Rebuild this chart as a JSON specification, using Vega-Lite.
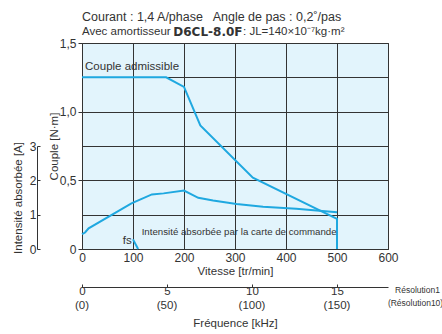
{
  "$schema": "https://vega.github.io/schema/vega-lite/v6.json",
  "width": 306,
  "height": 206,
  "autosize": {"type": "none"},
  "padding": {"left": 82, "top": 43, "right": 54, "bottom": 85},
  "background": "white",
  "config": {
    "view": {"fill": "#e2f4fc", "stroke": "#333333", "strokeWidth": 1},
    "font": "Liberation Sans, Arial, sans-serif",
    "axis": {
      "labelFont": "Liberation Sans, Arial, sans-serif",
      "titleFont": "Liberation Sans, Arial, sans-serif",
      "labelFontSize": 12,
      "titleFontSize": 11.5,
      "titleFontWeight": "normal",
      "labelColor": "#333333",
      "titleColor": "#333333",
      "domainColor": "#333333",
      "tickColor": "#333333",
      "gridColor": "#333333",
      "gridOpacity": 1,
      "gridWidth": 1
    },
    "text": {"font": "Liberation Sans, Arial, sans-serif", "color": "#333333"}
  },
  "datasets": {
    "curves": [
      {"series": "Couple admissible", "i": 1, "speed": 0, "torque": 1.25},
      {"series": "Couple admissible", "i": 2, "speed": 165, "torque": 1.25},
      {"series": "Couple admissible", "i": 3, "speed": 200, "torque": 1.18},
      {"series": "Couple admissible", "i": 4, "speed": 232, "torque": 0.9},
      {"series": "Couple admissible", "i": 5, "speed": 335, "torque": 0.52},
      {"series": "Couple admissible", "i": 6, "speed": 500, "torque": 0.22},
      {"series": "Couple admissible", "i": 7, "speed": 500, "torque": 0},
      {"series": "fs", "i": 1, "speed": 100, "torque": 0.07},
      {"series": "fs", "i": 2, "speed": 110, "torque": 0}
    ],
    "current": [
      {"i": 1, "speed": 0, "current": 0.43},
      {"i": 2, "speed": 6, "current": 0.48},
      {"i": 3, "speed": 13, "current": 0.6},
      {"i": 4, "speed": 97, "current": 1.33},
      {"i": 5, "speed": 137, "current": 1.59},
      {"i": 6, "speed": 160, "current": 1.62},
      {"i": 7, "speed": 200, "current": 1.7},
      {"i": 8, "speed": 228, "current": 1.49},
      {"i": 9, "speed": 257, "current": 1.41},
      {"i": 10, "speed": 303, "current": 1.31},
      {"i": 11, "speed": 355, "current": 1.23},
      {"i": 12, "speed": 420, "current": 1.17},
      {"i": 13, "speed": 500, "current": 1.07}
    ],
    "freq": [
      {"f": 0, "res10": "(0)"},
      {"f": 5, "res10": "(50)"},
      {"f": 10, "res10": "(100)"},
      {"f": 15, "res10": "(150)"}
    ]
  },
  "layer": [
    {
      "data": {"name": "curves"},
      "mark": {"type": "line", "color": "#1fa8e0", "strokeWidth": 2},
      "encoding": {
        "x": {
          "field": "speed", "type": "quantitative",
          "scale": {"domain": [0, 600], "nice": false},
          "axis": {"title": "Vitesse [tr/min]", "values": [0, 100, 200, 300, 400, 500, 600], "ticks": false, "domain": false, "labelPadding": 3, "titlePadding": 2, "grid": true, "labelFlush": false}
        },
        "y": {
          "field": "torque", "type": "quantitative",
          "scale": {"domain": [0, 1.5], "nice": false},
          "axis": {
            "title": "Couple [N·m]",
            "values": [0, 0.25, 0.5, 0.75, 1, 1.25, 1.5],
            "labelExpr": "datum.value == 0 ? '0' : (datum.value % 0.5 == 0 ? replace(format(datum.value, '.1f'), '.', ',') : '')",
            "tickSize": 4,
            "tickOpacity": {"condition": {"test": "datum.value % 0.5 == 0", "value": 1}, "value": 0},
            "domain": false,
            "grid": true,
            "labelPadding": 2,
            "titlePadding": 0,
            "labelFlush": false
          }
        },
        "detail": {"field": "series"},
        "order": {"field": "i"}
      }
    },
    {
      "data": {"name": "current"},
      "mark": {"type": "line", "color": "#1fa8e0", "strokeWidth": 2},
      "encoding": {
        "x": {"field": "speed", "type": "quantitative", "scale": {"domain": [0, 600], "nice": false}, "axis": null},
        "y": {
          "field": "current", "type": "quantitative",
          "scale": {"domain": [0, 3], "nice": false, "range": [206, 103]},
          "axis": {"orient": "left", "offset": 45, "title": "Intensité absorbée [A]", "values": [0, 1, 2, 3], "format": "d", "grid": false, "tickSize": -3, "labelPadding": 4, "titlePadding": 6, "labelFlush": false}
        },
        "order": {"field": "i"}
      }
    },
    {
      "data": {"name": "freq"},
      "mark": {"type": "text", "baseline": "middle", "align": "center", "fontSize": 11.5},
      "encoding": {
        "x": {
          "field": "f", "type": "quantitative",
          "scale": {"domain": [0, 18], "nice": false},
          "axis": {"orient": "bottom", "offset": 38, "title": "Fréquence [kHz]", "values": [0, 5, 10, 15], "tickSize": -3, "labelPadding": 1, "labelFontSize": 11.5, "titlePadding": 21, "grid": false, "labelFlush": false}
        },
        "y": {"datum": -0.412, "type": "quantitative", "scale": {"domain": [0, 1.5], "nice": false}, "axis": null},
        "text": {"field": "res10"}
      }
    },
    {
      "data": {"values": [
        {"x": 0, "y": 1.692, "label": "Courant : 1,4 A/phase \u00a0 Angle de pas : 0,2˚/pas"}
      ]},
      "mark": {"type": "text", "align": "left", "baseline": "middle", "fontSize": 12.5},
      "encoding": {
        "x": {"field": "x", "type": "quantitative", "scale": {"domain": [0, 600], "nice": false}, "axis": null},
        "y": {"field": "y", "type": "quantitative", "scale": {"domain": [0, 1.5], "nice": false}, "axis": null},
        "text": {"field": "label"}
      }
    },
    {
      "data": {"values": [
        {"x": 0, "y": 1.578, "label": "Avec amortisseur"},
        {"x": 315.7, "y": 1.578, "label": ": JL=140×10⁻⁷kg·m²"}
      ]},
      "mark": {"type": "text", "align": "left", "baseline": "middle", "fontSize": 11.5},
      "encoding": {
        "x": {"field": "x", "type": "quantitative", "scale": {"domain": [0, 600], "nice": false}, "axis": null},
        "y": {"field": "y", "type": "quantitative", "scale": {"domain": [0, 1.5], "nice": false}, "axis": null},
        "text": {"field": "label"}
      }
    },
    {
      "data": {"values": [
        {"x": 6, "y": 1.327, "label": "Couple admissible"},
        {"x": 79.8, "y": 0.058, "label": "fs"}
      ]},
      "mark": {"type": "text", "align": "left", "baseline": "middle", "fontSize": 11.5},
      "encoding": {
        "x": {"field": "x", "type": "quantitative", "scale": {"domain": [0, 600], "nice": false}, "axis": null},
        "y": {"field": "y", "type": "quantitative", "scale": {"domain": [0, 1.5], "nice": false}, "axis": null},
        "text": {"field": "label"}
      }
    },
    {
      "data": {"values": [
        {"x": 179, "y": 1.578, "label": "D6CL-8.0F"}
      ]},
      "mark": {"type": "text", "align": "left", "baseline": "middle", "fontSize": 12, "fontWeight": "bold", "font": "DejaVu Sans"},
      "encoding": {
        "x": {"field": "x", "type": "quantitative", "scale": {"domain": [0, 600], "nice": false}, "axis": null},
        "y": {"field": "y", "type": "quantitative", "scale": {"domain": [0, 1.5], "nice": false}, "axis": null},
        "text": {"field": "label"}
      }
    },
    {
      "data": {"values": [
        {"x": 117, "y": 0.126, "label": "Intensité absorbée par la carte de commande"}
      ]},
      "mark": {"type": "text", "align": "left", "baseline": "middle", "fontSize": 9.7},
      "encoding": {
        "x": {"field": "x", "type": "quantitative", "scale": {"domain": [0, 600], "nice": false}, "axis": null},
        "y": {"field": "y", "type": "quantitative", "scale": {"domain": [0, 1.5], "nice": false}, "axis": null},
        "text": {"field": "label"}
      }
    },
    {
      "data": {"values": [
        {"x": 657.8, "y": -0.299, "label": "Résolution1"},
        {"x": 654, "y": -0.39, "label": "(Résolution10)"}
      ]},
      "mark": {"type": "text", "align": "center", "baseline": "middle", "fontSize": 8.5},
      "encoding": {
        "x": {"field": "x", "type": "quantitative", "scale": {"domain": [0, 600], "nice": false}, "axis": null},
        "y": {"field": "y", "type": "quantitative", "scale": {"domain": [0, 1.5], "nice": false}, "axis": null},
        "text": {"field": "label"}
      }
    }
  ],
  "resolve": {"scale": {"x": "independent", "y": "independent"}, "axis": {"x": "independent", "y": "independent"}}
}
